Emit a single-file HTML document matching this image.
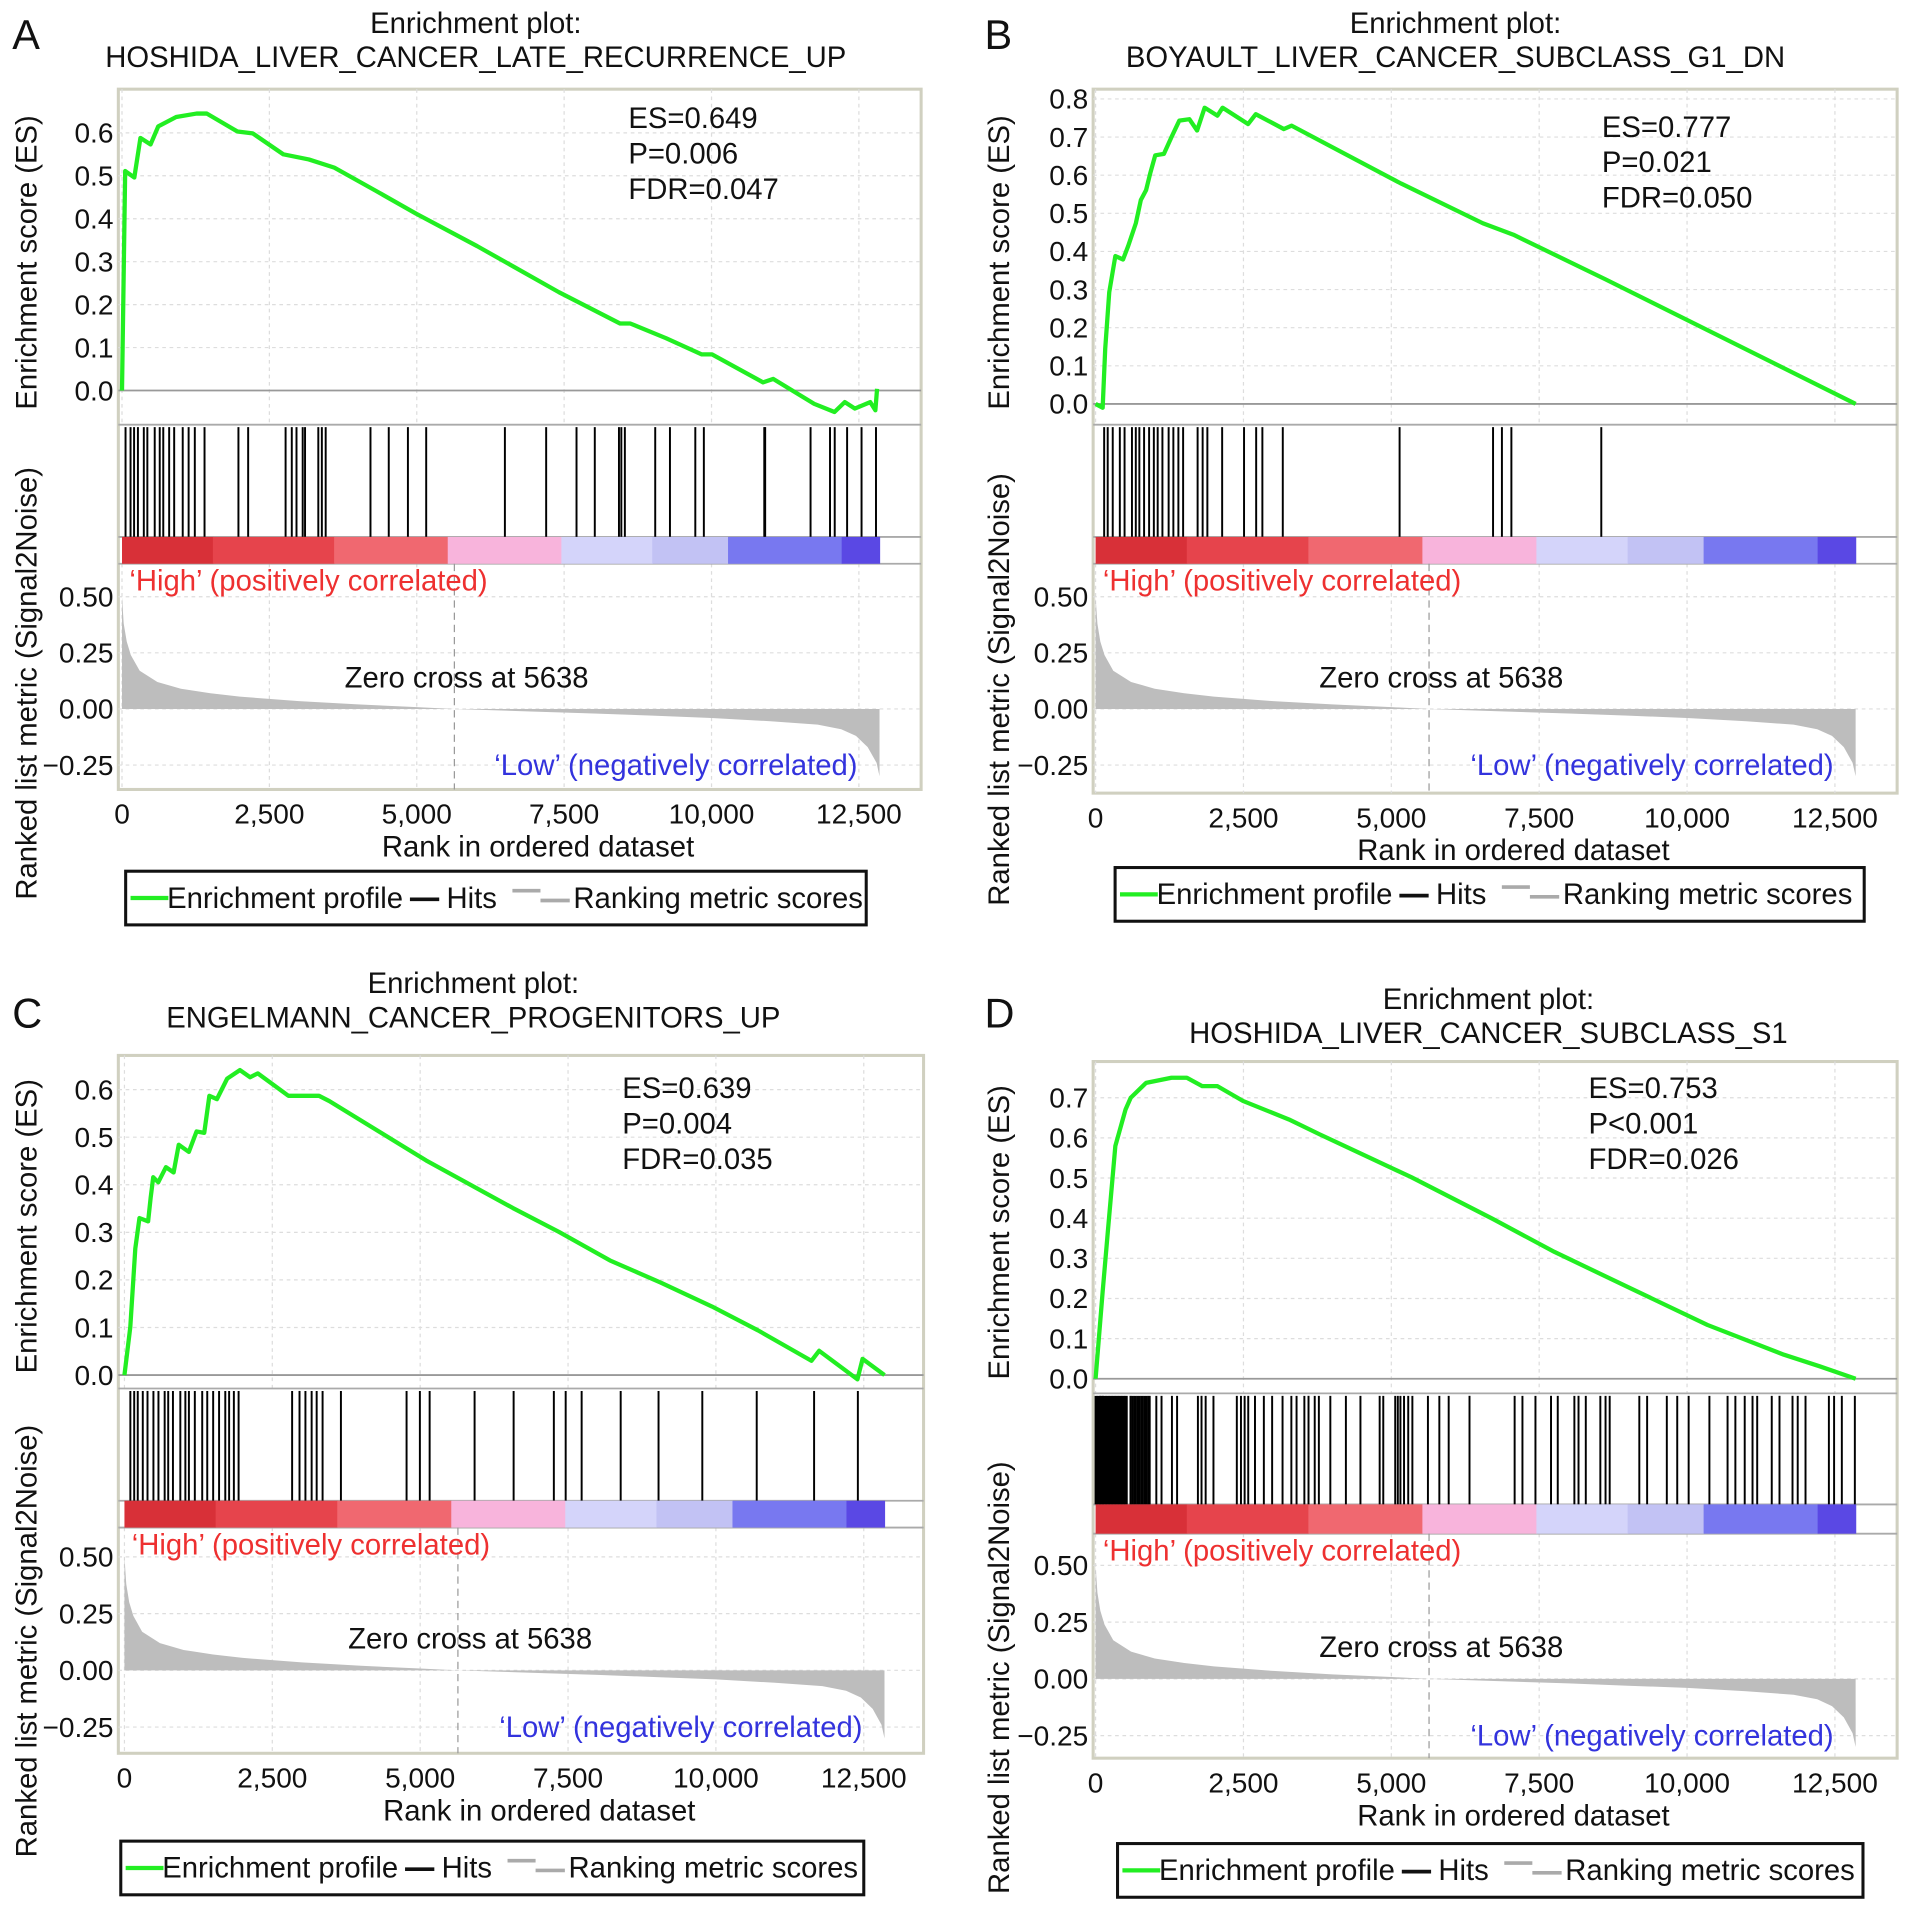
<!DOCTYPE html>
<html><head><meta charset="utf-8"><style>
html,body{margin:0;padding:0;background:#fff;}
svg{display:block;font-family:"Liberation Sans",sans-serif;}
</style></head><body>
<svg id="fig" width="1913" height="1912" viewBox="0 0 1568 1567" xmlns="http://www.w3.org/2000/svg"></svg>
<script>
// ---------- data ----------
const xTicks = [0, 2500, 5000, 7500, 10000, 12500];
const xTickLabels = ["0", "2,500", "5,000", "7,500", "10,000", "12,500"];
const totalRanks = 12850;
const zeroCross = 5638;
const metricTicks = [0.5, 0.25, 0, -0.25];
const metricTickLabels = ["0.50", "0.25", "0.00", "\u22120.25"];
const metricRanks = [0, 30, 80, 150, 300, 600, 1000, 1500, 2000, 3000, 4000, 5000, 5638, 7000, 8000, 9000, 10000, 11000, 11800, 12200, 12450, 12650, 12800, 12850];
const metricValues = [0.5, 0.38, 0.3, 0.24, 0.17, 0.12, 0.09, 0.07, 0.055, 0.035, 0.02, 0.008, 0, -0.012, -0.02, -0.03, -0.04, -0.055, -0.07, -0.09, -0.12, -0.17, -0.24, -0.3];

const esRanksA = [0, 53, 208, 312, 485, 615, 918, 1265, 1438, 1957, 2217, 2736, 3169, 3602, 4295, 4987, 6026, 7411, 8450, 8623, 9229, 9835, 10008, 10874, 11047, 11740, 12086, 12259, 12432, 12692, 12780, 12808];
const esValuesA = [0, 0.511, 0.496, 0.588, 0.573, 0.615, 0.637, 0.645, 0.645, 0.603, 0.599, 0.55, 0.538, 0.519, 0.466, 0.412, 0.336, 0.229, 0.156, 0.156, 0.122, 0.084, 0.084, 0.019, 0.027, -0.031, -0.05, -0.027, -0.042, -0.027, -0.046, 0.004];
const hitsA = [60,145,205,270,370,430,555,640,700,800,885,1030,1130,1235,1400,1975,2140,2775,2880,2960,3065,3105,3330,3390,3455,4215,4525,4850,5160,6495,7195,7710,8020,8430,8470,8530,9045,9295,9725,9870,10895,10910,11680,12010,12090,12300,12545,12790];

const esRanksB = [0, 119, 163, 232, 335, 465, 551, 680, 766, 853, 922, 1008, 1155, 1284, 1414, 1586, 1716, 1845, 2061, 2147, 2578, 2708, 3182, 3312, 5167, 6547, 7065, 8618, 12850];
const esValuesB = [0, -0.01, 0.145, 0.293, 0.388, 0.379, 0.414, 0.474, 0.535, 0.561, 0.604, 0.652, 0.656, 0.7, 0.743, 0.747, 0.717, 0.777, 0.756, 0.777, 0.734, 0.76, 0.721, 0.73, 0.578, 0.474, 0.444, 0.327, 0];
const hitsB = [145,205,290,410,490,615,680,740,820,905,985,1050,1130,1235,1315,1400,1480,1725,1810,1890,2140,2510,2715,2820,3165,5140,6720,6870,7030,8550];

const esRanksC = [0, 98, 184, 253, 400, 443, 486, 572, 702, 831, 917, 1090, 1219, 1349, 1435, 1564, 1737, 1953, 2125, 2255, 2772, 3290, 3463, 5102, 6568, 7345, 8208, 9070, 9933, 10710, 11616, 11745, 12392, 12479, 12850];
const esValuesC = [0, 0.101, 0.266, 0.33, 0.323, 0.373, 0.416, 0.405, 0.437, 0.426, 0.484, 0.469, 0.512, 0.509, 0.587, 0.58, 0.623, 0.641, 0.626, 0.634, 0.587, 0.587, 0.576, 0.451, 0.351, 0.301, 0.241, 0.194, 0.144, 0.094, 0.03, 0.051, -0.009, 0.034, 0];
const hitsC = [100,165,225,310,390,490,575,680,740,820,945,1030,1090,1190,1315,1400,1500,1600,1705,1770,1850,1930,2835,2960,3060,3165,3250,3350,3660,4770,4995,5160,5920,6580,7260,7460,7730,8390,9030,9770,10690,11660,12400];

const esRanksD = [0, 120, 206, 335, 508, 594, 853, 1284, 1543, 1802, 2061, 2492, 3269, 3786, 5339, 6720, 7755, 9049, 10344, 11638, 12242, 12850];
const esValuesD = [0, 0.217, 0.365, 0.58, 0.671, 0.7, 0.737, 0.75, 0.75, 0.729, 0.729, 0.692, 0.646, 0.609, 0.502, 0.398, 0.316, 0.225, 0.134, 0.06, 0.031, 0];
const hitsD = [0,25,50,75,100,125,150,175,200,225,250,275,300,325,350,375,400,425,450,475,500,527,590,620,650,680,710,740,770,800,830,860,890,915,1027,1115,1291,1378,1730,1791,1861,1993,2388,2458,2520,2581,2695,2845,2985,3161,3310,3398,3530,3600,3705,3775,3969,4232,4478,4803,4864,5066,5110,5154,5215,5286,5356,5619,5812,5970,6322,7085,7217,7437,7700,7814,8095,8165,8288,8534,8622,8692,9193,9325,9658,9834,10027,10378,10685,10817,10975,11107,11186,11432,11563,11783,11871,12003,12398,12486,12617,12837];

const barStops = [0, 0.12, 0.28, 0.43, 0.58, 0.7, 0.8, 0.95, 1];
const barColors = ["#d83038", "#e6444c", "#f06870", "#f8b4dc", "#d4d4fa", "#c2c2f4", "#7878f0", "#5a48e4", "#2a10c8"];

// ---------- drawing ----------
const NS = "http://www.w3.org/2000/svg";
const svg = document.getElementById("fig");
function mk(tag, attrs, parent, txt) {
  const e = document.createElementNS(NS, tag);
  for (const k in attrs) e.setAttribute(k, attrs[k]);
  if (txt !== undefined) e.textContent = txt;
  (parent || svg).appendChild(e);
  return e;
}
const FS = 24, TFS = 23;

function drawPanel(p, esRanks, esValues, hits, esTickMax, stats) {
  const g = mk("g", {});
  
  
  const xs = r => p.x0 + r / 2500 * p.xPer;
  const ys = v => p.esZero - v * 10 * p.esPer;
  const ym = v => p.metZero - v / 0.25 * p.metPer;
  const xEnd = xs(totalRanks);

  const let_ = mk("text", {x: p.letX, y: p.letY, "font-size": 34, fill: "#111"}, g, p.id);
  
  
  const t1 = mk("text", {x: p.tcx, y: p.t1y, "font-size": FS, "text-anchor": "middle", fill: "#111"}, g, "Enrichment plot:");
  
  
  const t2 = mk("text", {x: p.tcx, y: p.t1y + 28, "font-size": FS, "text-anchor": "middle", fill: "#111"}, g, p.name);
  
  

  const fr = mk("rect", {x: p.left, y: p.top, width: p.right - p.left, height: p.bottom - p.top, fill: "#fff", stroke: "#d0d0c0", "stroke-width": 2.5}, g);
  
  
  xTicks.forEach(t => {
    const l1 = mk("line", {x1: xs(t), x2: xs(t), y1: p.top, y2: p.esBottom, stroke: "#ddd", "stroke-dasharray": "3,3"}, g);
    
    
    const l2 = mk("line", {x1: xs(t), x2: xs(t), y1: p.barBottom, y2: p.bottom, stroke: "#ddd", "stroke-dasharray": "3,3"}, g);
    
    
  });
  for (let i = 0; i <= Math.round(esTickMax * 10); i++) {
    const v = i / 10;
    const gl = mk("line", {x1: p.left, x2: p.right, y1: ys(v), y2: ys(v), stroke: "#ddd", "stroke-dasharray": "3,3"}, g);
    
    
    const tl = mk("text", {x: p.left - 4, y: ys(v) + 8, "font-size": TFS, "text-anchor": "end", fill: "#111"}, g, v.toFixed(1));
    
    
  }
  metricTicks.forEach((v, i) => {
    const gl = mk("line", {x1: p.left, x2: p.right, y1: ym(v), y2: ym(v), stroke: "#ddd", "stroke-dasharray": "3,3"}, g);
    
    
    const tl = mk("text", {x: p.left - 4, y: ym(v) + 8, "font-size": TFS, "text-anchor": "end", fill: "#111"}, g, metricTickLabels[i]);
    
    
  });
  [p.esBottom, p.barTop, p.barBottom].forEach(y => {
    const s = mk("line", {x1: p.left, x2: p.right, y1: y, y2: y, stroke: "#aaa", "stroke-width": 1.5}, g);
    
    
  });
  const z = mk("line", {x1: p.left, x2: p.right, y1: ys(0), y2: ys(0), stroke: "#999", "stroke-width": 1.5}, g);
  
  

  const pts = esRanks.map((r, i) => xs(r).toFixed(1) + "," + ys(esValues[i]).toFixed(1)).join(" ");
  const es = mk("polyline", {points: pts, fill: "none", stroke: "#22ee22", "stroke-width": 3.5, "stroke-linejoin": "round"}, g);
  
  

  hits.forEach(h => {
    const l = mk("line", {x1: xs(h), x2: xs(h), y1: p.esBottom + 2, y2: p.barTop, stroke: "#000", "stroke-width": 1.6}, g);
    
    
  });

  for (let i = 0; i < barColors.length; i++) {
    const a = barStops[i], b = barStops[i + 1];
    const r = mk("rect", {x: xs(a * totalRanks), y: p.barTop, width: xs(b * totalRanks) - xs(a * totalRanks) + 0.5, height: p.barBottom - p.barTop, fill: barColors[i]}, g);
    
    
  }

  let d = "M" + xs(0) + "," + ym(0);
  metricRanks.forEach((r, i) => { d += " L" + xs(r).toFixed(1) + "," + ym(metricValues[i]).toFixed(1); });
  d += " L" + xs(totalRanks) + "," + ym(0) + " Z";
  const ar = mk("path", {d: d, fill: "#bdbdbd"}, g);
  
  
  const zc = mk("line", {x1: xs(zeroCross), x2: xs(zeroCross), y1: p.barBottom, y2: p.bottom, stroke: "#999", "stroke-dasharray": "6,4"}, g);
  
  

  const hi = mk("text", {x: xs(0) + 6, y: p.barBottom + 22, "font-size": FS, fill: "#ee3030"}, g, "\u2018High\u2019 (positively correlated)");
  
  
  const lo = mk("text", {x: xEnd - 18, y: ym(-0.25) + 8, "font-size": FS, fill: "#3333dd", "text-anchor": "end"}, g, "\u2018Low\u2019 (negatively correlated)");
  
  
  const zt = mk("text", {x: xs(5638) + 10, y: ym(0.14) + 8, "font-size": FS, fill: "#111", "text-anchor": "middle"}, g, "Zero cross at 5638");
  
  

  stats.forEach((s, i) => {
    const st = mk("text", {x: p.sx, y: p.sy + i * 29, "font-size": FS, fill: "#111"}, g, s);
    
    
  });

  xTicks.forEach((t, i) => {
    const tl = mk("text", {x: xs(t), y: p.bottom + 28, "font-size": TFS, "text-anchor": "middle", fill: "#111"}, g, xTickLabels[i]);
    
    
  });
  const xl = mk("text", {x: (p.left + p.right) / 2 + 15, y: p.bottom + 55, "font-size": FS, "text-anchor": "middle", fill: "#111"}, g, "Rank in ordered dataset");
  
  
  const y1 = mk("text", {x: 0, y: 0, "font-size": FS, "text-anchor": "middle", fill: "#111", transform: "translate(" + (p.letX + 20) + "," + p.y1c + ") rotate(-90)"}, g, "Enrichment score (ES)");
  
  
  const y2 = mk("text", {x: 0, y: 0, "font-size": FS, "text-anchor": "middle", fill: "#111", transform: "translate(" + (p.letX + 20) + "," + p.y2c + ") rotate(-90)"}, g, "Ranked list metric (Signal2Noise)");
  
  

  const lg = mk("g", {}, g);
  
  
  mk("rect", {x: p.lx, y: p.ly, width: p.lw, height: 44, fill: "#fff", stroke: "#111", "stroke-width": 2.5}, lg);
  const cy = p.ly + 22;
  const e1 = mk("line", {x1: p.lx + 4, x2: p.lx + 35, y1: cy, y2: cy, stroke: "#22ee22", "stroke-width": 3.5}, lg);
  
  
  mk("text", {x: p.lx + 34, y: cy + 8, "font-size": FS, fill: "#111"}, lg, "Enrichment profile");
  const e2 = mk("line", {x1: p.lx + 233, x2: p.lx + 257, y1: cy + 1, y2: cy + 1, stroke: "#111", "stroke-width": 3}, lg);
  
  
  mk("text", {x: p.lx + 263, y: cy + 8, "font-size": FS, fill: "#111"}, lg, "Hits");
  mk("line", {x1: p.lx + 317, x2: p.lx + 340, y1: cy - 6, y2: cy - 6, stroke: "#aaa", "stroke-width": 3}, lg);
  mk("line", {x1: p.lx + 340, x2: p.lx + 364, y1: cy + 2, y2: cy + 2, stroke: "#aaa", "stroke-width": 3}, lg);
  mk("text", {x: p.lx + 367, y: cy + 8, "font-size": FS, fill: "#111"}, lg, "Ranking metric scores");
}

drawPanel({id: "A", name: "HOSHIDA_LIVER_CANCER_LATE_RECURRENCE_UP", letX: 10, letY: 40, tcx: 390, t1y: 27,
  left: 97, right: 755, top: 73, bottom: 647, x0: 100, xPer: 120.8, esZero: 320, esPer: 35.2, esBottom: 348,
  barTop: 440, barBottom: 462, metZero: 581, metPer: 46, sx: 515, sy: 105, y1c: 215, y2c: 560,
  lx: 103, ly: 714, lw: 607},
  esRanksA, esValuesA, hitsA, 0.6, ["ES=0.649", "P=0.006", "FDR=0.047"]);
drawPanel({id: "B", name: "BOYAULT_LIVER_CANCER_SUBCLASS_G1_DN", letX: 807, letY: 40, tcx: 1193, t1y: 27,
  left: 896, right: 1555, top: 73, bottom: 650, x0: 898, xPer: 121.2, esZero: 331, esPer: 31.25, esBottom: 348,
  barTop: 440, barBottom: 462, metZero: 581, metPer: 46, sx: 1313, sy: 112, y1c: 215, y2c: 565,
  lx: 914, ly: 711, lw: 614},
  esRanksB, esValuesB, hitsB, 0.8, ["ES=0.777", "P=0.021", "FDR=0.050"]);
drawPanel({id: "C", name: "ENGELMANN_CANCER_PROGENITORS_UP", letX: 10, letY: 842, tcx: 388, t1y: 814,
  left: 97, right: 757, top: 865, bottom: 1437, x0: 102, xPer: 121.2, esZero: 1127, esPer: 39, esBottom: 1138,
  barTop: 1230, barBottom: 1252, metZero: 1369, metPer: 46.5, sx: 510, sy: 900, y1c: 1005, y2c: 1345,
  lx: 99, ly: 1509, lw: 609},
  esRanksC, esValuesC, hitsC, 0.6, ["ES=0.639", "P=0.004", "FDR=0.035"]);
drawPanel({id: "D", name: "HOSHIDA_LIVER_CANCER_SUBCLASS_S1", letX: 807, letY: 842, tcx: 1220, t1y: 827,
  left: 896, right: 1555, top: 870, bottom: 1441, x0: 898, xPer: 121.2, esZero: 1130, esPer: 32.9, esBottom: 1142,
  barTop: 1233, barBottom: 1257, metZero: 1376, metPer: 46.5, sx: 1302, sy: 900, y1c: 1010, y2c: 1375,
  lx: 916, ly: 1511, lw: 611},
  esRanksD, esValuesD, hitsD, 0.7, ["ES=0.753", "P<0.001", "FDR=0.026"]);
</script>
</body></html>
